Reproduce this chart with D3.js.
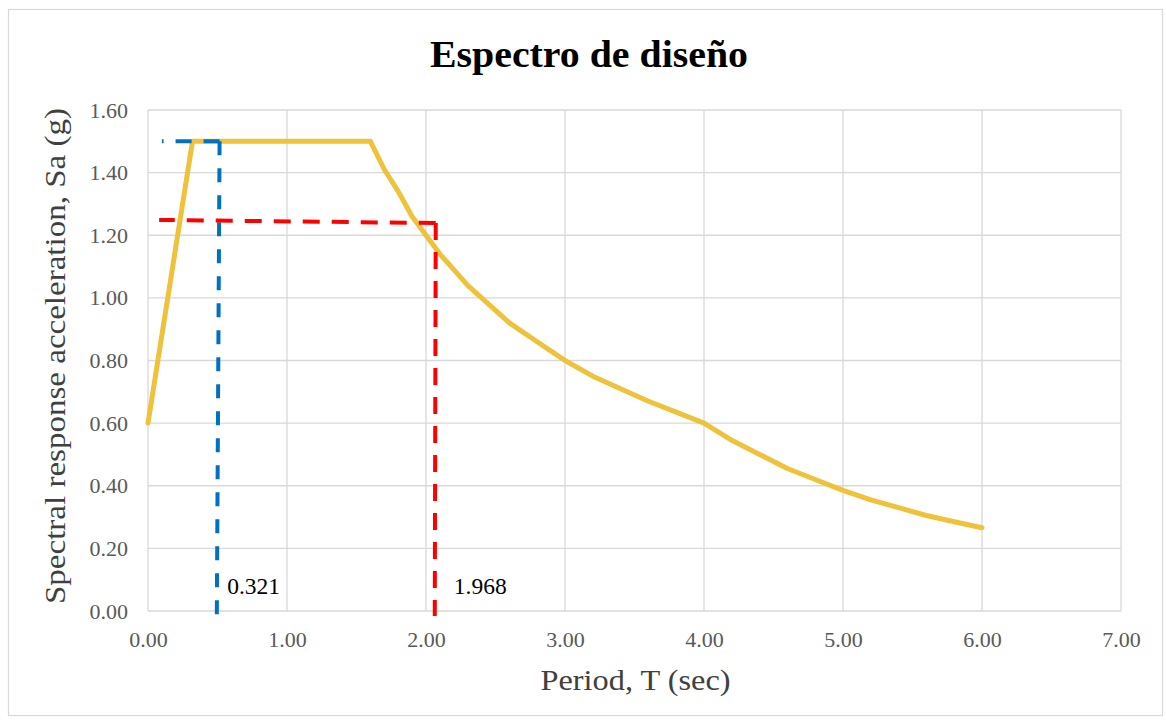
<!DOCTYPE html>
<html>
<head>
<meta charset="utf-8">
<script src="https://cdn.jsdelivr.net/npm/d3@7"></script>
<style>
  html, body { margin: 0; padding: 0; background: #fff; }
  svg { display: block; }
</style>
</head>
<body>
<svg id="chart" width="1166" height="724"></svg>
<script>
// ---- data ----
const chartTitle = "Espectro de diseño";
const xTitle = "Period, T (sec)";
const yTitle = "Spectral response acceleration, Sa (g)";

const periodT = [0.00, 0.32, 1.60, 1.70, 1.80, 1.90, 2.00, 2.10, 2.20, 2.30, 2.40, 2.50, 2.60, 2.70, 2.80, 2.90, 3.00, 3.20, 3.40, 3.60, 3.80, 4.00, 4.20, 4.40, 4.60, 4.80, 5.00, 5.20, 5.40, 5.60, 5.80, 6.00];
const sa      = [0.60, 1.50, 1.50, 1.41, 1.34, 1.26, 1.20, 1.14, 1.09, 1.04, 1.00, 0.96, 0.92, 0.89, 0.86, 0.83, 0.80, 0.75, 0.71, 0.67, 0.635, 0.60, 0.545, 0.50, 0.455, 0.42, 0.385, 0.355, 0.33, 0.305, 0.285, 0.266];

const xTicks = [0, 1, 2, 3, 4, 5, 6, 7];
const yTicks = [0, 0.2, 0.4, 0.6, 0.8, 1.0, 1.2, 1.4, 1.6];

// annotation guide lines
const blueH = [[0.515, 1.50], [0.10, 1.50]];
const blueV = [[0.515, 1.50], [0.495, -0.02]];
const redH  = [[2.07, 1.239], [0.08, 1.249]];
const redV  = [[2.07, 1.239], [2.063, -0.016]];
const blueLabel = {t: 0.57, sa: 0.055, text: "0.321"};
const redLabel  = {t: 2.20, sa: 0.055, text: "1.968"};

// ---- layout ----
const svg = d3.select("#chart");
const L = 148, R = 1121, T = 110, B = 611;
const x = d3.scaleLinear().domain([0, 7]).range([L, R]);
const y = d3.scaleLinear().domain([0, 1.6]).range([B, T]);

// outer border
svg.append("rect").attr("x", 8.5).attr("y", 9.5).attr("width", 1154).attr("height", 706)
  .attr("fill", "#fff").attr("stroke", "#d9d9d9").attr("stroke-width", 1.2);

// gridlines
const grid = svg.append("g");
grid.selectAll("line.v").data(xTicks).join("line")
  .attr("x1", d => x(d)).attr("x2", d => x(d)).attr("y1", T).attr("y2", B)
  .attr("stroke", "#d9d9d9").attr("stroke-width", 1.3);
grid.selectAll("line.h").data(yTicks).join("line")
  .attr("x1", L).attr("x2", R).attr("y1", d => y(d)).attr("y2", d => y(d))
  .attr("stroke", "#d9d9d9").attr("stroke-width", 1.3);

// axes (labels only)
const serif = "'Liberation Serif', 'Times New Roman', serif";
const xAxis = d3.axisBottom(x).tickValues(xTicks).tickFormat(d3.format(".2f")).tickSize(0).tickPadding(20);
const gx = svg.append("g").attr("transform", `translate(0,${B})`).call(xAxis);
gx.select(".domain").remove();
gx.selectAll("text").attr("font-family", serif).attr("font-size", 22).attr("fill", "#595959");

const yAxis = d3.axisLeft(y).tickValues(yTicks).tickFormat(d3.format(".2f")).tickSize(0).tickPadding(20);
const gy = svg.append("g").attr("transform", `translate(${L},0)`).call(yAxis);
gy.select(".domain").remove();
gy.selectAll("text").attr("font-family", serif).attr("font-size", 22).attr("fill", "#595959");

// curve
const pts = periodT.map((t, i) => [t, sa[i]]);
const line = d3.line().x(d => x(d[0])).y(d => y(d[1]));
svg.append("path").datum(pts).attr("d", line)
  .attr("fill", "none").attr("stroke", "#EEC23A").attr("stroke-width", 5)
  .attr("stroke-linejoin", "round").attr("stroke-linecap", "round");

// guides
function guide(data, color, dash) {
  svg.append("path").datum(data).attr("d", line)
    .attr("fill", "none").attr("stroke", color).attr("stroke-width", 4)
    .attr("stroke-dasharray", dash);
}
guide(blueH, "#0070C0", "16,12");
guide(blueV, "#0070C0", "14,13");
guide(redH, "#FF0000", "17,12");
guide(redV, "#FF0000", "17,12");

// annotation labels
[blueLabel, redLabel].forEach(lb => {
  svg.append("text").attr("x", x(lb.t)).attr("y", y(lb.sa))
    .attr("font-family", serif).attr("font-size", 23.5).attr("fill", "#000")
    .text(lb.text);
});

// titles
svg.append("text").attr("x", 589).attr("y", 67).attr("text-anchor", "middle")
  .attr("font-family", serif).attr("font-weight", "bold").attr("font-size", 38)
  .attr("textLength", 318).attr("lengthAdjust", "spacingAndGlyphs")
  .attr("fill", "#000").text(chartTitle);

svg.append("text").attr("x", 635.5).attr("y", 690).attr("text-anchor", "middle")
  .attr("font-family", serif).attr("font-size", 29)
  .attr("textLength", 190).attr("lengthAdjust", "spacingAndGlyphs")
  .attr("fill", "#404040").text(xTitle);

svg.append("text").attr("transform", "translate(65,356) rotate(-90)").attr("text-anchor", "middle")
  .attr("font-family", serif).attr("font-size", 29)
  .attr("textLength", 496).attr("lengthAdjust", "spacingAndGlyphs")
  .attr("fill", "#404040").text(yTitle);
</script>
</body>
</html>
